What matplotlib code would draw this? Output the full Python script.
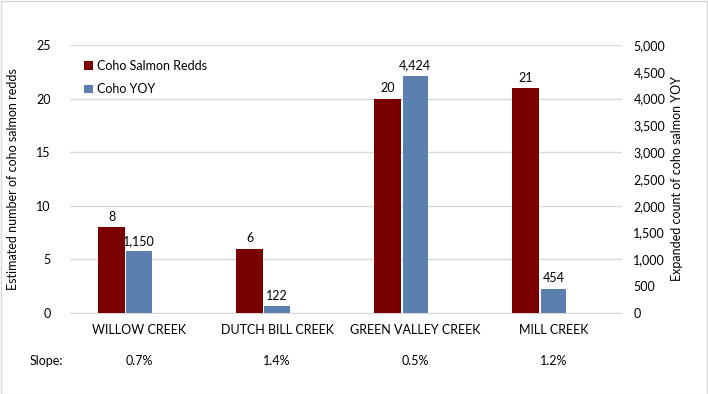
import numpy as np
import matplotlib.pyplot as plt
from matplotlib.patches import Rectangle

plt.rcParams['font.family'] = ['Lato', 'DejaVu Sans']

# Data
creeks = ["WILLOW CREEK", "DUTCH BILL CREEK", "GREEN VALLEY CREEK", "MILL CREEK"]
redds = [8, 6, 20, 21]
yoy = [1150, 122, 4424, 454]
slopes = ["0.7%", "1.4%", "0.5%", "1.2%"]

red = "#7a0000"
blue = "#5b7faf"
grid = "#d9d9d9"

fig = plt.figure(figsize=(7.08, 3.94), dpi=100)
fig.patches.append(Rectangle((0.001, 0.001), 0.997, 0.997, transform=fig.transFigure,
                             fill=False, edgecolor="#d9d9d9", linewidth=1))
ax = fig.add_axes([0.099, 0.206, 0.780, 0.680])
ax2 = ax.twinx()

x = np.arange(len(creeks))
w = 0.2

b1 = ax.bar(x - 0.2, redds, w, color=red, label="Coho Salmon Redds", zorder=3)
b2 = ax2.bar(x, yoy, w * 0.92, color=blue, label="Coho YOY", zorder=3)

ax.set_ylim(0, 25)
ax.set_yticks(range(0, 26, 5))
ax2.set_ylim(0, 5000)
ax2.set_yticks(range(0, 5001, 500))
ax2.set_yticklabels([f"{v:,}" for v in range(0, 5001, 500)])
ax.set_xlim(-0.5, 3.5)

for a in (ax, ax2):
    for s in a.spines.values():
        s.set_visible(False)
    a.tick_params(length=0, labelsize=9, colors="black")
ax.spines["bottom"].set_visible(True)
ax.spines["bottom"].set_color(grid)
ax.yaxis.grid(True, color=grid, linewidth=1, zorder=0)
ax.set_axisbelow(True)
ax.tick_params(axis="y", pad=14)
ax2.tick_params(axis="y", pad=8)

ax.set_xticks(x)
ax.set_xticklabels(creeks, fontsize=9)
ax.tick_params(axis="x", pad=8)

ax.set_ylabel("Estimated number of coho salmon redds", fontsize=9, labelpad=12)
ax2.set_ylabel("Expanded count of coho salmon YOY", fontsize=9, labelpad=4)

for rect, v in zip(b1, redds):
    ax.annotate(str(v), (rect.get_x() + rect.get_width() / 2, rect.get_height()),
                xytext=(0, 3), textcoords="offset points", ha="center", va="bottom", fontsize=9)
for rect, v in zip(b2, yoy):
    ax2.annotate(f"{v:,}", (rect.get_x() + rect.get_width() / 2, rect.get_height()),
                 xytext=(0, 3), textcoords="offset points", ha="center", va="bottom", fontsize=9)

# slope row
fig.text(30 / 708, 1 - 361 / 394, "Slope:", fontsize=9, va="center", ha="left")
for i, s in enumerate(slopes):
    xd = ax.transData.transform((i, 0))[0]
    xf = fig.transFigure.inverted().transform((xd, 0))[0]
    fig.text(xf, 1 - 361 / 394, s, fontsize=9, va="center", ha="center")

ax.legend(handles=[b1, b2], loc="upper left", bbox_to_anchor=(0.005, 0.985), frameon=False,
          fontsize=9, handlelength=0.7, handleheight=0.7, handletextpad=0.3, labelspacing=0.9)

fig.savefig("out.png", dpi=100)
